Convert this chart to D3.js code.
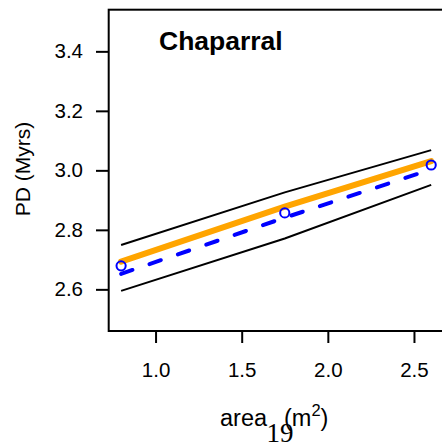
<!DOCTYPE html>
<html>
<head>
<meta charset="utf-8">
<script src="https://cdn.jsdelivr.net/npm/d3@7"></script>
<style>
  body { margin: 0; background: #fff; }
  svg { display: block; font-family: "Liberation Sans", Arial, sans-serif; }
</style>
</head>
<body>
<script>
// values
var areas = [0.8, 1.75, 2.6];
var upperBand = [2.749, 2.926, 3.068];
var lowerBand = [2.595, 2.771, 2.951];
var fitted = [2.693, 2.878, 3.031];
var predicted = [2.652, 2.841, 3.003];
var observed = [2.679, 2.857, 3.018];
var xTicks = [1.0, 1.5, 2.0, 2.5];
var yTicks = [2.6, 2.8, 3.0, 3.2, 3.4];

var W = 442, H = 445;
var plot = {left: 108.7, top: 9.7, right: 443.6, bottom: 331};

var x = d3.scaleLinear()
    .domain([0.728, 2.672])
    .range([plot.left, plot.right]);

var y = d3.scaleLinear()
    .domain([2.46, 3.54])
    .range([plot.bottom, plot.top]);

var svg = d3.select("body").append("svg")
    .attr("width", W)
    .attr("height", H);

var xAxis = d3.axisBottom(x)
    .tickValues(xTicks)
    .tickFormat(d3.format(".1f"))
    .tickSize(12)
    .tickPadding(19.5);

var yAxis = d3.axisLeft(y)
    .tickValues(yTicks)
    .tickFormat(d3.format(".1f"))
    .tickSize(12.7)
    .tickPadding(13);

function styleAxis(g) {
  g.select(".domain").remove();
  g.selectAll("line").attr("stroke", "#000").attr("stroke-width", 2);
  g.selectAll("text")
      .attr("fill", "#000")
      .style("font-size", "20.5px")
      .style("font-family", "'Liberation Sans', Arial, sans-serif");
}

svg.append("g")
    .attr("transform", "translate(0," + plot.bottom + ")")
    .call(xAxis)
    .call(styleAxis);

svg.append("g")
    .attr("transform", "translate(" + plot.left + ",0)")
    .call(yAxis)
    .call(styleAxis);

var line = d3.line()
    .x(function(d) { return x(d[0]); })
    .y(function(d) { return y(d[1]); });

function pairs(vals) {
  return areas.map(function(a, i) { return [a, vals[i]]; });
}

// confidence band
[upperBand, lowerBand].forEach(function(vals) {
  svg.append("path")
      .datum(pairs(vals))
      .attr("d", line)
      .attr("fill", "none")
      .attr("stroke", "#000")
      .attr("stroke-width", 2);
});

svg.append("path")
    .datum(pairs(fitted))
    .attr("d", line)
    .attr("fill", "none")
    .attr("stroke", "#FFA500")
    .attr("stroke-width", 6)
    .attr("stroke-linecap", "round");

svg.append("path")
    .datum(pairs(predicted))
    .attr("d", line)
    .attr("fill", "none")
    .attr("stroke", "#0000FF")
    .attr("stroke-width", 4)
    .attr("stroke-dasharray", "12,18")
    .attr("stroke-linecap", "round");

svg.selectAll("circle.obs")
    .data(pairs(observed))
  .enter().append("circle")
    .attr("class", "obs")
    .attr("cx", function(d) { return x(d[0]); })
    .attr("cy", function(d) { return y(d[1]); })
    .attr("r", 4.6)
    .attr("fill", "none")
    .attr("stroke", "#0000FF")
    .attr("stroke-width", 2);

// frame
svg.append("rect")
    .attr("x", plot.left)
    .attr("y", plot.top)
    .attr("width", plot.right - plot.left)
    .attr("height", plot.bottom - plot.top)
    .attr("fill", "none")
    .attr("stroke", "#000")
    .attr("stroke-width", 2);

svg.append("text")
    .attr("x", 159)
    .attr("y", 50)
    .style("font-size", "26.5px")
    .style("font-weight", "bold")
    .text("Chaparral");

svg.append("text")
    .attr("transform", "translate(30,169) rotate(-90)")
    .attr("text-anchor", "middle")
    .style("font-size", "21px")
    .text("PD (Myrs)");

var xl = svg.append("text")
    .attr("x", 220)
    .attr("y", 426)
    .style("font-size", "23.5px");
xl.append("tspan").text("area");
xl.append("tspan").attr("x", 284).text("(m");
xl.append("tspan").attr("dy", -10).style("font-size", "16.5px").text("2");
xl.append("tspan").attr("dy", 10).text(")");

// page number
svg.append("text")
    .attr("x", 280)
    .attr("y", 442)
    .attr("text-anchor", "middle")
    .style("font-family", "'Liberation Serif', 'Times New Roman', serif")
    .style("font-size", "27px")
    .text("19");
</script>
</body>
</html>
